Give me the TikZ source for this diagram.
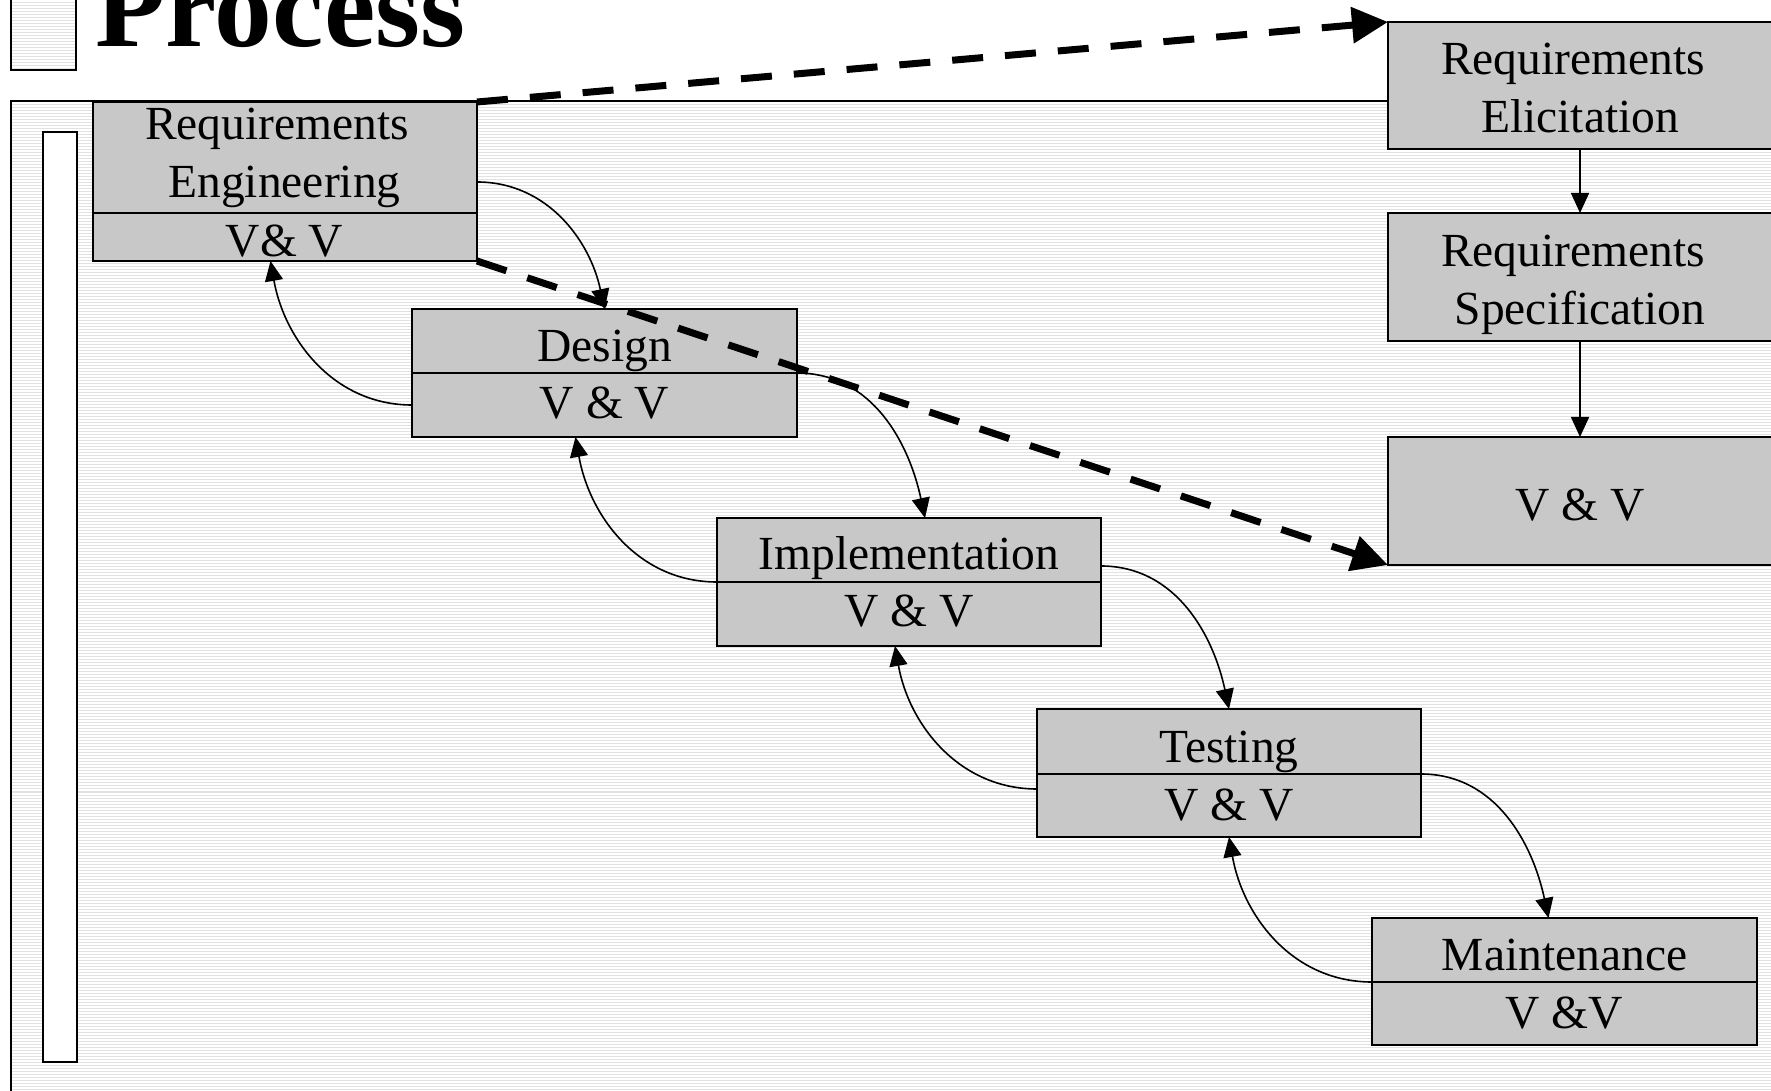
\documentclass[tikz,border=0pt]{standalone}
\usepackage{fontspec}
\setmainfont{Liberation Serif}
\usetikzlibrary{arrows.meta}
\definecolor{boxgray}{RGB}{200,200,200}
\definecolor{stripegray}{RGB}{226,226,226}
\begin{document}
\begin{tikzpicture}[x=1pt,y=1pt,
  boxpart/.style={draw=black, line width=1.8pt, fill=boxgray, minimum width=384pt, inner sep=0pt, outer sep=0pt, rectangle},
  lbl/.style={anchor=base, inner sep=0pt, font=\fontsize{47.5}{57}\selectfont},
  flow/.style={line width=1.6pt, -{Triangle[length=20pt,width=18pt]}},
  jump/.style={line width=7pt, dash pattern=on 31pt off 22pt, -{Triangle[length=36pt,width=35pt]}},
  stripe/.style={stripegray, line width=1pt}
]
\useasboundingbox (0,0) rectangle (1771,1090);
\fill[white] (0,0) rectangle (1771,1090);
% striped background inside the frame
\foreach \y in {1,4,...,988} \draw[stripe] (11,\y) -- (1771,\y);
% title square
\foreach \y in {1021,1024,...,1090} \draw[stripe] (11,\y) -- (76,\y);
\draw[line width=2pt] (11,1020) rectangle (76,1100);
% frame
\draw[line width=2pt] (11,-5) -- (11,988.5) -- (1771,988.5);
\node[anchor=base west, inner sep=0pt, font=\fontsize{115.5}{120}\selectfont\bfseries] (title) at (95,1043) {Process};
% inner white bar
\draw[line width=2.5pt, fill=white] (43,28) rectangle (77,958);

% left cascade boxes
\node[boxpart, minimum height=111pt, anchor=north west] (reU) at (93,988) {};
\node[boxpart, minimum height=48pt, anchor=north] (reL) at (reU.south) {};
\node[boxpart, minimum height=64pt, minimum width=385pt, anchor=north west] (dU) at (412,781) {};
\node[boxpart, minimum height=64pt, minimum width=385pt, anchor=north] (dL) at (dU.south) {};
\node[boxpart, minimum height=64pt, anchor=north west] (iU) at (717,572) {};
\node[boxpart, minimum height=64pt, anchor=north] (iL) at (iU.south) {};
\node[boxpart, minimum height=65pt, anchor=north west] (tU) at (1037,381) {};
\node[boxpart, minimum height=63pt, anchor=north] (tL) at (tU.south) {};
\node[boxpart, minimum height=64pt, minimum width=385pt, anchor=north west] (mU) at (1372,172) {};
\node[boxpart, minimum height=63pt, minimum width=385pt, anchor=north] (mL) at (mU.south) {};

% right column boxes
\node[boxpart, minimum height=127pt, anchor=north west] (eU) at (1388,1068) {};
\node[boxpart, minimum height=128pt, anchor=north west] (sU) at (1388,877) {};
\node[boxpart, minimum height=128pt, anchor=north west] (vv) at (1388,653) {};

% labels
\node[lbl] (reT1) at (277,950) {Requirements};
\node[lbl] (reT2) at (284.5,892) {Engineering};
\node[lbl] (reT3) at (284.5,833) {V\& V};
\node[lbl] (dT1) at (604.5,728) {Design};
\node[lbl] (dT2) at (604.5,671) {V \& V};
\node[lbl] (iT1) at (909,520) {Implementation};
\node[lbl] (iT2) at (909,463) {V \& V};
\node[lbl] (tT1) at (1229,327) {Testing};
\node[lbl] (tT2) at (1229,270) {V \& V};
\node[lbl] (mT1) at (1564.5,120) {Maintenance};
\node[lbl] (mT2) at (1564.5,62) {V \&V};
\node[lbl] (eT1) at (1573,1015) {Requirements};
\node[lbl] (eT2) at (1580,957) {Elicitation};
\node[lbl] (sT1) at (1573,823) {Requirements};
\node[lbl] (sT2) at (1580,765) {Specification};
\node[lbl] (vT) at (1580,569) {V \& V};

% forward / backward curved connectors
\draw[flow] ([yshift=-24.5pt]reU.east) to[out=0,in=102] (dU.north);
\draw[flow] (dL.west) to[out=180,in=-80] ([xshift=-14.5pt]reL.south);
\draw[flow] (dU.south east) to[out=0,in=102] ([xshift=16pt]iU.north);
\draw[flow] (iU.south west) to[out=180,in=-80] ([xshift=-29pt]dL.south);
\draw[flow] ([yshift=-16pt]iU.east) to[out=0,in=102] (tU.north);
\draw[flow] ([yshift=16.5pt]tL.west) to[out=180,in=-80] ([xshift=-14pt]iL.south);
\draw[flow] (tU.south east) to[out=0,in=102] ([xshift=-16pt]mU.north);
\draw[flow] (mU.south west) to[out=180,in=-80] (tL.south);

% right column arrows
\draw[flow] (eU.south) -- (sU.north);
\draw[flow] (sU.south) -- (vv.north);

% dashed jumps
\draw[jump] (reU.north east) -- (eU.north west);
\draw[jump] (reL.south east) -- (vv.south west);
\end{tikzpicture}
\end{document}
